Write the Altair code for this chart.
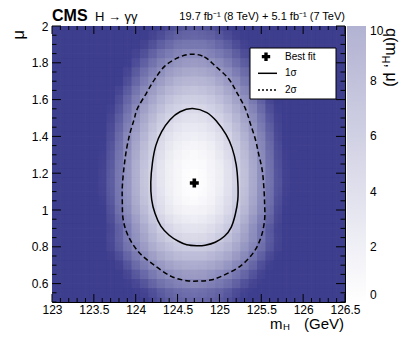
import altair as alt
import pandas as pd

FONT = "Liberation Sans"

# ---------------- data ----------------
# centres of the heat-map cells
mh_centers = [123.05, 123.15, 123.25, 123.35, 123.45, 123.55, 123.65, 123.75, 123.85, 123.95,
              124.05, 124.15, 124.25, 124.35, 124.45, 124.55, 124.65, 124.75, 124.85, 124.95,
              125.05, 125.15, 125.25, 125.35, 125.45, 125.55, 125.65, 125.75, 125.85, 125.95,
              126.05, 126.15, 126.25, 126.35, 126.45]
mu_centers = [1.975, 1.925, 1.875, 1.825, 1.775, 1.725, 1.675, 1.625, 1.575, 1.525,
              1.475, 1.425, 1.375, 1.325, 1.275, 1.225, 1.175, 1.125, 1.075, 1.025,
              0.975, 0.925, 0.875, 0.825, 0.775, 0.725, 0.675, 0.625, 0.575, 0.525]
# q(mH, mu) per row (top row first), 35 columns each, values >= 10 shown as 10
q_rows = [
    "10 10 10 10 10 10 10 10 10 10 10 10 10 9.7 9.1 8.8 8.6 8.6 8.8 9.1 9.7 10 10 10 10 10 10 10 10 10 10 10 10 10 10",
    "10 10 10 10 10 10 10 10 10 10 10 10 9.3 8.7 8.1 7.8 7.6 7.6 7.8 8.1 8.7 9.3 10 10 10 10 10 10 10 10 10 10 10 10 10",
    "10 10 10 10 10 10 10 10 10 10 10 9.3 8.4 7.7 7.2 6.8 6.7 6.7 6.8 7.2 7.7 8.4 9.3 10 10 10 10 10 10 10 10 10 10 10 10",
    "10 10 10 10 10 10 10 10 10 10 9.4 8.4 7.5 6.8 6.3 6.0 5.8 5.8 6.0 6.3 6.8 7.5 8.4 9.4 10 10 10 10 10 10 10 10 10 10 10",
    "10 10 10 10 10 10 10 10 10 9.8 8.6 7.6 6.7 6.0 5.5 5.1 5.0 5.0 5.1 5.5 6.0 6.7 7.6 8.6 9.8 10 10 10 10 10 10 10 10 10 10",
    "10 10 10 10 10 10 10 10 10 9.1 7.8 6.8 5.9 5.3 4.7 4.4 4.2 4.2 4.4 4.7 5.3 5.9 6.8 7.8 9.1 10 10 10 10 10 10 10 10 10 10",
    "10 10 10 10 10 10 10 10 9.8 8.4 7.2 6.1 5.3 4.6 4.0 3.7 3.5 3.5 3.7 4.0 4.6 5.3 6.1 7.2 8.4 9.8 10 10 10 10 10 10 10 10 10",
    "10 10 10 10 10 10 10 10 9.1 7.7 6.5 5.5 4.6 3.9 3.4 3.1 2.9 2.9 3.1 3.4 3.9 4.6 5.5 6.5 7.7 9.1 10 10 10 10 10 10 10 10 10",
    "10 10 10 10 10 10 10 10 8.6 7.2 6.0 4.9 4.1 3.4 2.8 2.5 2.3 2.3 2.5 2.8 3.4 4.1 4.9 6.0 7.2 8.6 10 10 10 10 10 10 10 10 10",
    "10 10 10 10 10 10 10 9.6 8.1 6.7 5.5 4.4 3.6 2.9 2.3 2.0 1.8 1.8 2.0 2.3 2.9 3.6 4.4 5.5 6.7 8.1 9.6 10 10 10 10 10 10 10 10",
    "10 10 10 10 10 10 10 9.2 7.6 6.2 5.0 4.0 3.1 2.4 1.9 1.5 1.4 1.4 1.5 1.9 2.4 3.1 4.0 5.0 6.2 7.6 9.2 10 10 10 10 10 10 10 10",
    "10 10 10 10 10 10 10 8.8 7.2 5.8 4.6 3.6 2.7 2.0 1.5 1.2 1.0 1.0 1.2 1.5 2.0 2.7 3.6 4.6 5.8 7.2 8.8 10 10 10 10 10 10 10 10",
    "10 10 10 10 10 10 10 8.5 6.9 5.5 4.3 3.3 2.4 1.7 1.2 0.9 0.7 0.7 0.9 1.2 1.7 2.4 3.3 4.3 5.5 6.9 8.5 10 10 10 10 10 10 10 10",
    "10 10 10 10 10 10 9.9 8.2 6.7 5.3 4.0 3.0 2.2 1.5 0.9 0.6 0.4 0.4 0.6 0.9 1.5 2.2 3.0 4.0 5.3 6.7 8.2 9.9 10 10 10 10 10 10 10",
    "10 10 10 10 10 10 9.7 8.0 6.5 5.1 3.9 2.8 2.0 1.3 0.8 0.4 0.2 0.2 0.4 0.8 1.3 2.0 2.8 3.9 5.1 6.5 8.0 9.7 10 10 10 10 10 10 10",
    "10 10 10 10 10 10 9.6 7.9 6.3 5.0 3.7 2.7 1.8 1.1 0.6 0.3 0.1 0.1 0.3 0.6 1.1 1.8 2.7 3.7 5.0 6.3 7.9 9.6 10 10 10 10 10 10 10",
    "10 10 10 10 10 10 9.5 7.8 6.3 4.9 3.7 2.6 1.8 1.1 0.6 0.2 0.0 0.0 0.2 0.6 1.1 1.8 2.6 3.7 4.9 6.3 7.8 9.5 10 10 10 10 10 10 10",
    "10 10 10 10 10 10 9.5 7.8 6.3 4.9 3.7 2.6 1.8 1.1 0.6 0.2 0.0 0.0 0.2 0.6 1.1 1.8 2.6 3.7 4.9 6.3 7.8 9.5 10 10 10 10 10 10 10",
    "10 10 10 10 10 10 9.6 7.9 6.4 5.0 3.8 2.7 1.9 1.2 0.6 0.3 0.1 0.1 0.3 0.6 1.2 1.9 2.7 3.8 5.0 6.4 7.9 9.6 10 10 10 10 10 10 10",
    "10 10 10 10 10 10 9.8 8.1 6.5 5.2 3.9 2.9 2.0 1.4 0.8 0.5 0.3 0.3 0.5 0.8 1.4 2.0 2.9 3.9 5.2 6.5 8.1 9.8 10 10 10 10 10 10 10",
    "10 10 10 10 10 10 10 8.4 6.8 5.5 4.2 3.2 2.3 1.6 1.1 0.8 0.6 0.6 0.8 1.1 1.6 2.3 3.2 4.2 5.5 6.8 8.4 10 10 10 10 10 10 10 10",
    "10 10 10 10 10 10 10 8.8 7.2 5.9 4.6 3.6 2.7 2.0 1.5 1.2 1.0 1.0 1.2 1.5 2.0 2.7 3.6 4.6 5.9 7.2 8.8 10 10 10 10 10 10 10 10",
    "10 10 10 10 10 10 10 9.3 7.7 6.3 5.1 4.1 3.2 2.5 2.0 1.7 1.5 1.5 1.7 2.0 2.5 3.2 4.1 5.1 6.3 7.7 9.3 10 10 10 10 10 10 10 10",
    "10 10 10 10 10 10 10 8.9 7.6 6.3 5.3 4.4 3.6 3.0 2.5 2.2 2.1 2.1 2.2 2.5 3.0 3.6 4.4 5.3 6.3 7.6 8.9 10 10 10 10 10 10 10 10",
    "10 10 10 10 10 10 10 9.4 8.1 6.9 5.9 5.0 4.2 3.7 3.2 2.9 2.8 2.8 2.9 3.2 3.7 4.2 5.0 5.9 6.9 8.1 9.4 10 10 10 10 10 10 10 10",
    "10 10 10 10 10 10 10 10 8.9 7.7 6.6 5.8 5.0 4.4 4.0 3.7 3.6 3.6 3.7 4.0 4.4 5.0 5.8 6.6 7.7 8.9 10 10 10 10 10 10 10 10 10",
    "10 10 10 10 10 10 10 10 9.8 8.6 7.5 6.7 5.9 5.3 4.9 4.6 4.5 4.5 4.6 4.9 5.3 5.9 6.7 7.5 8.6 9.8 10 10 10 10 10 10 10 10 10",
    "10 10 10 10 10 10 10 10 10 9.6 8.5 7.7 6.9 6.3 5.9 5.6 5.5 5.5 5.6 5.9 6.3 6.9 7.7 8.5 9.6 10 10 10 10 10 10 10 10 10 10",
    "10 10 10 10 10 10 10 10 10 10 9.6 8.8 8.0 7.4 7.0 6.7 6.5 6.5 6.7 7.0 7.4 8.0 8.8 9.6 10 10 10 10 10 10 10 10 10 10 10",
    "10 10 10 10 10 10 10 10 10 10 10 9.9 9.2 8.6 8.2 7.9 7.7 7.7 7.9 8.2 8.6 9.2 9.9 10 10 10 10 10 10 10 10 10 10 10 10",
]

# 1 sigma contour (closed)
mh_1sigma = [124.68, 124.85, 124.97, 125.08, 125.15, 125.20, 125.22, 125.22, 125.19, 125.14,
             125.06, 124.95, 124.83, 124.73, 124.61, 124.51, 124.40, 124.30, 124.23, 124.19,
             124.18, 124.20, 124.24, 124.31, 124.41, 124.53]
mu_1sigma = [1.551, 1.529, 1.480, 1.410, 1.339, 1.247, 1.150, 1.058, 0.977, 0.906,
             0.857, 0.825, 0.809, 0.806, 0.811, 0.830, 0.863, 0.912, 0.982, 1.058,
             1.150, 1.258, 1.350, 1.426, 1.491, 1.534]
# 2 sigma contour (closed)
mh_2sigma = [124.67, 124.82, 124.95, 125.11, 125.21, 125.31, 125.37, 125.43, 125.47, 125.51,
             125.53, 125.54, 125.54, 125.50, 125.41, 125.25, 125.03, 124.89, 124.76, 124.61,
             124.43, 124.23, 124.04, 123.91, 123.85, 123.84, 123.84, 123.86, 123.89, 123.93,
             123.98, 124.02, 124.13, 124.23, 124.35, 124.51]
mu_2sigma = [1.847, 1.832, 1.783, 1.713, 1.637, 1.551, 1.469, 1.383, 1.301, 1.220,
             1.128, 1.031, 0.949, 0.857, 0.771, 0.695, 0.641, 0.619, 0.614, 0.616,
             0.638, 0.697, 0.769, 0.859, 0.949, 1.042, 1.128, 1.231, 1.329, 1.415,
             1.491, 1.551, 1.637, 1.713, 1.783, 1.829]

best_fit_mh = [124.70]
best_fit_mu = [1.147]

x_major = [123.0, 123.5, 124.0, 124.5, 125.0, 125.5, 126.0, 126.5]
x_minor = [123.1, 123.2, 123.3, 123.4, 123.6, 123.7, 123.8, 123.9, 124.1, 124.2, 124.3, 124.4,
           124.6, 124.7, 124.8, 124.9, 125.1, 125.2, 125.3, 125.4, 125.6, 125.7, 125.8, 125.9,
           126.1, 126.2, 126.3, 126.4]
y_major = [0.6, 0.8, 1.0, 1.2, 1.4, 1.6, 1.8, 2.0]
y_minor = [0.5, 0.55, 0.65, 0.7, 0.75, 0.85, 0.9, 0.95, 1.05, 1.1, 1.15, 1.25, 1.3, 1.35,
           1.45, 1.5, 1.55, 1.65, 1.7, 1.75, 1.85, 1.9, 1.95]
z_labels = [0, 2, 4, 6, 8, 10]

# ---------------- tables ----------------
cells = []
for mu, row in zip(mu_centers, q_rows):
    vals = [float(v) for v in row.split()]
    for mh, q in zip(mh_centers, vals):
        cells.append({"x0": mh - 0.052, "x1": mh + 0.052,
                      "y0": mu - 0.026, "y1": mu + 0.026,
                      "xs0": mh - 0.1, "xs1": mh + 0.1,
                      "ys0": mu - 0.05, "ys1": mu + 0.05, "q": q})
heat_df = pd.DataFrame(cells)
c1_df = pd.DataFrame({"mh": mh_1sigma, "mu": mu_1sigma, "i": list(range(len(mh_1sigma)))})
c2_df = pd.DataFrame({"mh": mh_2sigma, "mu": mu_2sigma, "i": list(range(len(mh_2sigma)))})
bf_df = pd.DataFrame({"mh": best_fit_mh, "mu": best_fit_mu})
one = pd.DataFrame({"k": [0]})

W, H = 293, 276
xs = alt.Scale(domain=[123, 126.5], nice=False, zero=False)
ys = alt.Scale(domain=[0.5, 2.0], nice=False, zero=False)
x_axis = alt.Axis(values=x_major, format="~g", title=None, ticks=False, domain=False, grid=False,
                  labelFlush=False, labelFont=FONT, labelFontSize=12, labelColor="black",
                  labelPadding=2)
y_axis = alt.Axis(values=y_major, format="~g", title=None, ticks=False, domain=False, grid=False,
                  labelFont=FONT, labelFontSize=12, labelColor="black", labelPadding=4)
cscale = alt.Scale(domain=[0, 10], range=["#ffffff", "#3e3e8f"], clamp=True, interpolate="rgb")
cleg = alt.Legend(orient="none", legendX=295, legendY=0, direction="vertical",
                  gradientLength=H, gradientThickness=19, values=z_labels, title=None, padding=0,
                  labelFont=FONT, labelFontSize=12, labelColor="black", labelOffset=4,
                  labelBaseline="middle", labelOverlap=False, gradientStrokeWidth=0)

heat = alt.Chart(heat_df).mark_rect(clip=True).encode(
    x=alt.X("x0:Q", scale=xs, axis=x_axis), x2="x1:Q",
    y=alt.Y("y0:Q", scale=ys, axis=y_axis), y2="y1:Q",
    color=alt.Color("q:Q", scale=cscale, legend=cleg),
)
# same cells drawn again, wider and translucent, to soften the cell edges
heat_soft = alt.Chart(heat_df).mark_rect(clip=True, opacity=0.4).encode(
    x=alt.X("xs0:Q", scale=xs, axis=x_axis), x2="xs1:Q",
    y=alt.Y("ys0:Q", scale=ys, axis=y_axis), y2="ys1:Q",
    color=alt.Color("q:Q", scale=cscale, legend=cleg),
)

c1 = alt.Chart(c1_df).mark_line(color="black", strokeWidth=1.5, interpolate="cardinal-closed").encode(
    x=alt.X("mh:Q", scale=xs, axis=x_axis), y=alt.Y("mu:Q", scale=ys, axis=y_axis), order="i:Q")
c2 = alt.Chart(c2_df).mark_line(color="black", strokeWidth=1.5, strokeDash=[5, 3],
                                interpolate="cardinal-closed").encode(
    x=alt.X("mh:Q", scale=xs, axis=x_axis), y=alt.Y("mu:Q", scale=ys, axis=y_axis), order="i:Q")
bf = alt.Chart(bf_df).mark_point(shape="cross", filled=True, size=80, color="black", opacity=1).encode(
    x=alt.X("mh:Q", scale=xs, axis=x_axis), y=alt.Y("mu:Q", scale=ys, axis=y_axis))


def xticks(vals, length):
    d = pd.DataFrame({"v": vals})
    b = alt.Chart(d).mark_rule(color="black", strokeWidth=1).encode(
        x=alt.X("v:Q", scale=xs, axis=x_axis), y=alt.value(H), y2=alt.value(H - length))
    t = alt.Chart(d).mark_rule(color="black", strokeWidth=1).encode(
        x=alt.X("v:Q", scale=xs, axis=x_axis), y=alt.value(0), y2=alt.value(length))
    return [b, t]


def yticks(vals, length):
    d = pd.DataFrame({"v": vals})
    l = alt.Chart(d).mark_rule(color="black", strokeWidth=1).encode(
        y=alt.Y("v:Q", scale=ys, axis=y_axis), x=alt.value(0), x2=alt.value(length))
    r = alt.Chart(d).mark_rule(color="black", strokeWidth=1).encode(
        y=alt.Y("v:Q", scale=ys, axis=y_axis), x=alt.value(W), x2=alt.value(W - length))
    return [l, r]


def txt(s, x, y, size, align="left", baseline="alphabetic", angle=0, bold=False):
    kw = dict(align=align, baseline=baseline, font=FONT, fontSize=size, color="black")
    if angle:
        kw["angle"] = angle
    if bold:
        kw["fontWeight"] = "bold"
    return alt.Chart(one).mark_text(**kw).encode(
        x=alt.value(x), y=alt.value(y), text=alt.value(s))


# legend box
leg_box = alt.Chart(one).mark_rect(fill="white", stroke="black", strokeWidth=1).encode(
    x=alt.value(198), x2=alt.value(284), y=alt.value(22), y2=alt.value(73))
leg_cross = alt.Chart(one).mark_point(shape="cross", filled=True, size=70, color="black",
                                      opacity=1).encode(x=alt.value(214), y=alt.value(30.7))
leg_l1 = alt.Chart(one).mark_rule(color="black", strokeWidth=1.5).encode(
    x=alt.value(206), x2=alt.value(225), y=alt.value(47.3))
leg_l2 = alt.Chart(one).mark_rule(color="black", strokeWidth=1.5, strokeDash=[2, 2]).encode(
    x=alt.value(206), x2=alt.value(225), y=alt.value(64))

texts = [
    txt("Best fit", 233, 30.7, 10, baseline="middle"),
    txt("1σ", 233, 47.3, 10, baseline="middle"),
    txt("2σ", 233, 64, 10, baseline="middle"),
    txt("CMS", 0, -5, 16, bold=True),
    txt("H → γγ", 43, -5, 13),
    txt("19.7 fb⁻¹ (8 TeV) + 5.1 fb⁻¹ (7 TeV)", 293, -6, 11, align="right"),
    txt("m", 218, 302.5, 15),
    txt("H", 231, 304, 9.5),
    txt("(GeV)", 292, 302.5, 15, align="right"),
    txt("μ", -28, 4, 17, align="right", angle=270),
    txt("q(m", 334, 2, 16, angle=90),
    txt("H", 330, 29.6, 11, angle=90),
    txt(", μ)", 334, 37.5, 16, angle=90),
]

layers = [heat, heat_soft, c2, c1, bf] + xticks(x_major, 8) + xticks(x_minor, 4) + \
    yticks(y_major, 9) + yticks(y_minor, 4.5) + [leg_box, leg_cross, leg_l1, leg_l2] + texts

chart = alt.layer(*layers).properties(
    width=W, height=H,
    padding={"left": 44, "top": 18, "right": 54, "bottom": 30},
    autosize=alt.AutoSizeParams(type="none"),
).configure_view(stroke="black", strokeWidth=1)

chart.save("out.html", embed_options={"renderer": "svg", "actions": False})
